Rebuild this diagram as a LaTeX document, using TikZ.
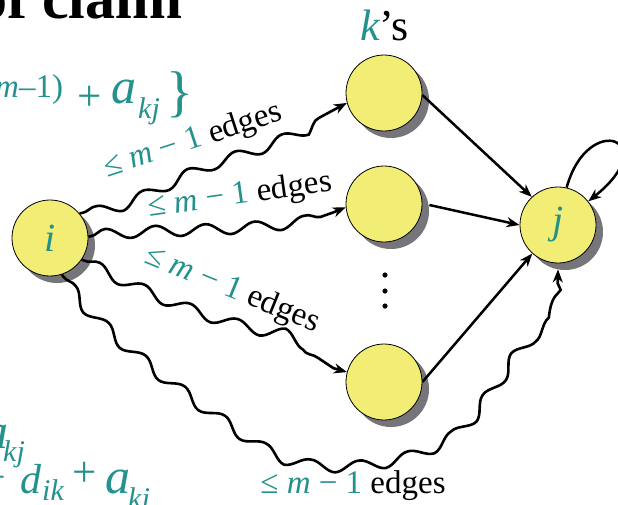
\documentclass[tikz,border=0pt]{standalone}
\usepackage{fontspec}
\setmainfont{Liberation Serif}
\usetikzlibrary{decorations.pathmorphing,arrows.meta,backgrounds,calc}
\definecolor{tealc}{RGB}{35,145,140}
\definecolor{nodey}{RGB}{242,237,117}
\definecolor{shad}{RGB}{118,118,122}
\newcommand\edgelbl{{\color{tealc}≤ \textit{m} − 1} edges}
\begin{document}
\begin{tikzpicture}[x=1pt,y=-1pt,
  vert/.style={circle, draw=black, line width=0.8pt, fill=nodey, minimum size=76pt, inner sep=0pt, text=tealc, font=\fontsize{40}{48}\selectfont\itshape},
  txt/.style={inner sep=0pt, text=tealc, anchor=base west},
  lbl/.style={inner sep=0pt, font=\fontsize{33}{40}\selectfont},
  tip/.style={-{Stealth[length=13pt,width=10pt,inset=4pt]}},
  wave/.style={line width=2.6pt, tip, decorate, decoration={snake, amplitude=5.5pt, segment length=50pt, pre length=2pt, post length=14pt}},
  arr/.style={line width=2.5pt, tip}]
\useasboundingbox (0,0) rectangle (618,504);
\clip (0,0) rectangle (618,504);

% title fragment
\node[txt, text=black, font=\fontsize{60}{72}\selectfont\bfseries] (title) at (-23,18) {of claim};

% top formula fragment
\node[txt, font=\fontsize{33}{40}\selectfont] (f1a) at (-5,97) {\itshape m\upshape –1)};
\node[txt, font=\fontsize{43}{50}\selectfont] (f1b) at (77,110) {+};
\node[txt, font=\fontsize{50}{60}\selectfont\itshape] (f1c) at (111,103) {a};
\node[txt, font=\fontsize{30}{36}\selectfont\itshape] (f1d) at (138,118) {kj};
\node[txt, font=\fontsize{56}{64}\selectfont] (f1e) at (166,110) {\}};

% bottom formula fragments
\node[txt, font=\fontsize{50}{60}\selectfont\itshape] (f2a) at (-17,448) {a};
\node[txt, font=\fontsize{30}{36}\selectfont\itshape] (f2b) at (3,461) {kj};
\node[txt, font=\fontsize{40}{48}\selectfont] (f3a) at (-17,490) {−};
\node[txt, font=\fontsize{42}{50}\selectfont\itshape] (f3b) at (20,493) {d};
\node[txt, font=\fontsize{30}{36}\selectfont\itshape] (f3c) at (42,500) {ik};
\node[txt, font=\fontsize{43}{50}\selectfont] (f3d) at (72,486) {+};
\node[txt, font=\fontsize{50}{60}\selectfont\itshape] (f3e) at (105,493) {a};
\node[txt, font=\fontsize{30}{36}\selectfont\itshape] (f3f) at (128,508) {kj};

% vertices
\node[vert] (i) at (50,238) {i};
\node[vert] (k1) at (384,93) {};
\node[vert] (k2) at (384,204) {};
\node[vert] (k3) at (384,382) {};
\node[vert] (j) at (558,225) {j};

\node[txt, text=black, font=\fontsize{44}{52}\selectfont] (ks) at (360,40) {{\color{tealc}\itshape k}’s};

% dots
\fill (385,275) circle (2.6pt) (385,291) circle (2.6pt) (385,306) circle (2.6pt);

% edge labels
\node[lbl, rotate=18] (la) at (193,141) {\edgelbl};
\node[lbl, rotate=8] (lb) at (240,196) {\edgelbl};
\node[lbl, rotate=-22] (lc) at (232,290) {\edgelbl};
\node[lbl] (ld) at (353,486) {\edgelbl};

\begin{scope}[on background layer]
  \foreach \n in {i,k1,k2,k3,j} {
    \fill[shad] ($(\n.center)+(7,7)$) circle (38pt);
  }
  \coordinate (jb) at ($(j.south)+(0,6)$);
  \coordinate (k2s) at ($(k2.east)+(7,1)$);
  \draw[wave] (i.40) .. controls (120,210) and (150,184) .. (210,162)
     .. controls (280,140) and (305,125) .. (k1.195);
  \draw[wave] (i.2) .. controls (150,228) and (280,238) .. (k2.185);
  \draw[wave] (i.-34) .. controls (130,285) and (200,317) .. (265,327)
     .. controls (305,333) and (315,368) .. (k3.165);
  \draw[wave] (i.-72) .. controls (90,320) and (190,395) .. (260,440)
     .. controls (300,466) and (390,460) .. (440,430)
     .. controls (480,405) and (500,340) .. (540,315)
     .. controls (558,305) and (558,290) .. (jb);
  \draw[arr] (k1.-3) -- (j.133);
  \draw[arr] (k2s) -- (j.180);
  \draw[arr] (k3.east) -- (j.-132);
  \draw[arr] (j.77) .. controls (588,110) and (665,140) .. (j.38);
\end{scope}
\end{tikzpicture}
\end{document}
